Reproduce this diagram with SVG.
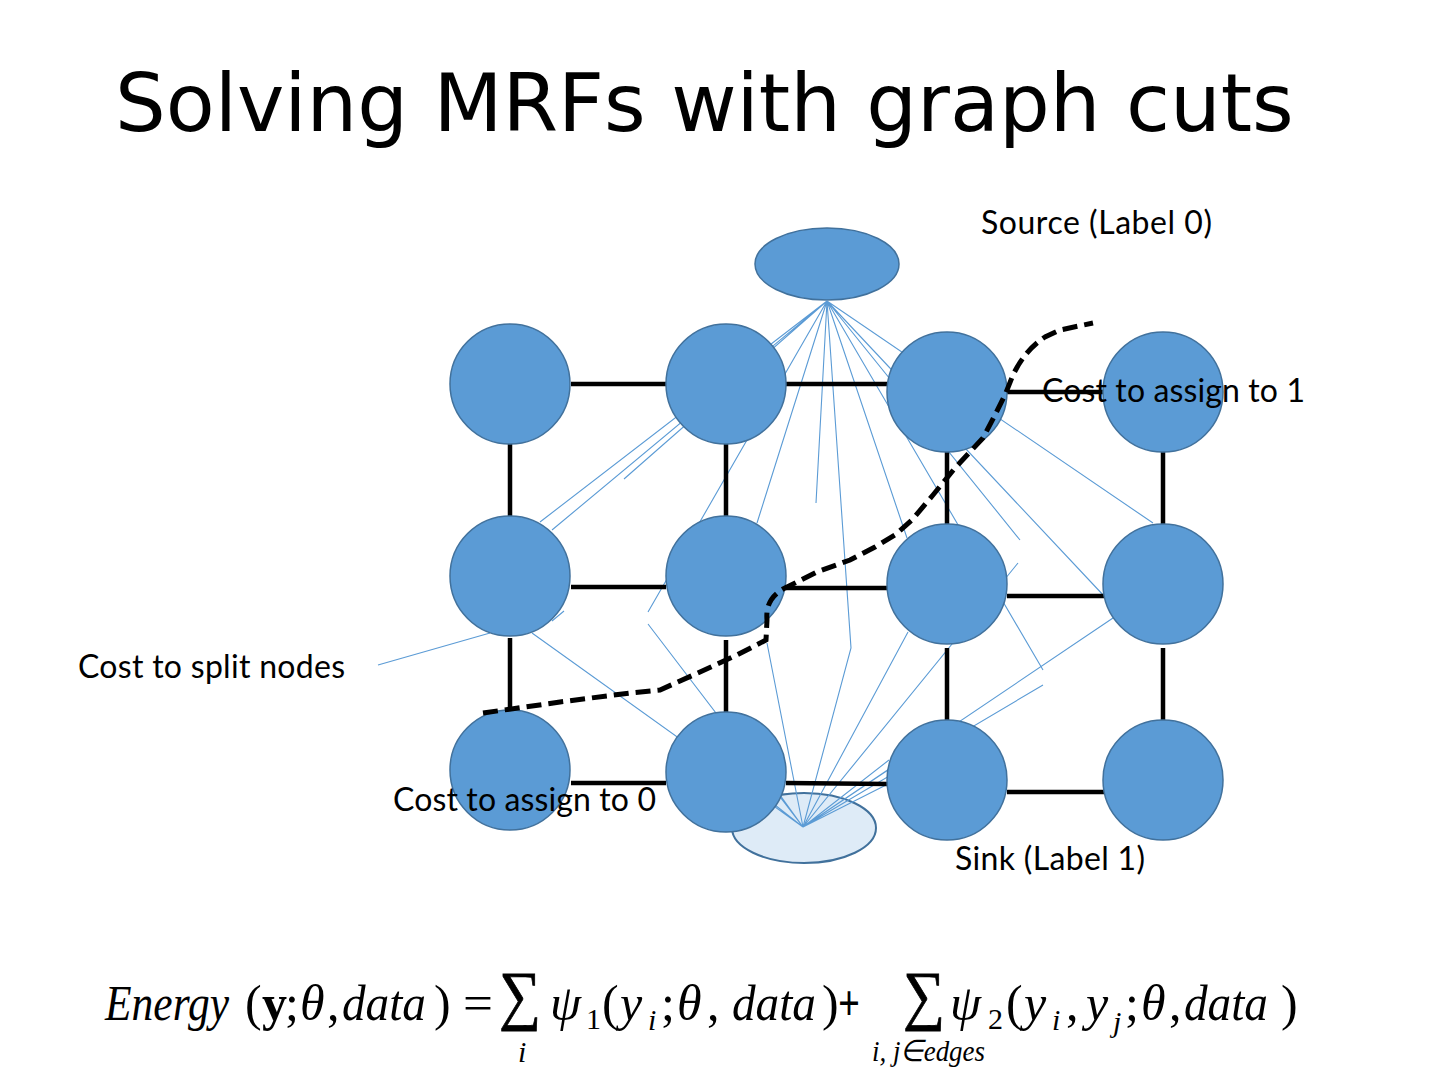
<svg xmlns="http://www.w3.org/2000/svg" width="1440" height="1080" viewBox="0 0 1440 1080">
<style>
.title{font-family:"DejaVu Sans",Verdana,sans-serif;font-size:80px;fill:#000}
.lbl{font-family:Lato,"Open Sans",sans-serif;font-size:32px;fill:#000}
.node{fill:#5B9BD5;stroke:#41719C;stroke-width:1.5}
.sink{fill:#DEEBF7;stroke:#41719C;stroke-width:2}
.thin{stroke:#5B9BD5;stroke-width:1.1;fill:none}
.edge{stroke:#000;stroke-width:4.5;fill:none}
.cut{stroke:#000;stroke-width:5;fill:none;stroke-dasharray:15 7}
.ei{font-family:"Liberation Serif","Times New Roman",serif;font-style:italic;font-size:50px;fill:#000}
.er{font-family:"Liberation Serif","Times New Roman",serif;font-size:50px;fill:#000}
.es{font-family:"Liberation Serif","Times New Roman",serif;font-size:30px;fill:#000}
.esi{font-family:"Liberation Serif","Times New Roman",serif;font-style:italic;font-size:30px;fill:#000}
.sum{font-family:"Liberation Serif","Times New Roman",serif;font-size:66px;fill:#000;stroke:#000;stroke-width:0.8}
</style>
<rect width="1440" height="1080" fill="#fff"/>
<text class="title" x="115" y="131">Solving MRFs with graph cuts</text>

<g id="source"><ellipse class="node" cx="827" cy="264" rx="72" ry="36"/></g>
<g id="sink"><ellipse class="sink" cx="804" cy="828" rx="72" ry="35"/></g>

<g id="connectors">
 <g id="unary">
  <path class="thin" d="M827,301L540,522M827,301L552,530M827,301L624,479M827,301L648,612M827,301L757,523M827,301L816,503M827,301L851,648L803,827M827,301L907,538M827,301L1043,670M827,301L1020,540M827,301L1105,597M827,301L1153,523"/>
  <path class="thin" d="M803,827L767,643M803,827L908,632M803,827L1018,563M803,827L1113,618M803,827L1043,685M803,827L888,770M803,827L889,760M803,827L890,783M803,827L532,633M803,827L648,624M803,827L775,805M803,827L780,795"/>
  <path class="thin" d="M552,621L564,611M378,665L490,633"/>
 </g>
 <g id="pairwise">
  <path class="edge" d="M571,384H666M786,384H890M1007,392H1104M510,444V516M726,444V516M947,452V524M1163,452V524M571,587H666M786,588H888M1007,596H1104M510,638V710M726,640V712M947,648V720M1163,648V720M571,783H666M786,783L888,784M1007,792H1104"/>
 </g>
</g>

<g id="n11"><circle class="node" cx="510" cy="384" r="60"/></g>
<g id="n12"><circle class="node" cx="726" cy="384" r="60"/></g>
<g id="n13"><circle class="node" cx="947" cy="392" r="60"/></g>
<g id="n14"><circle class="node" cx="1163" cy="392" r="60"/></g>
<g id="n21"><circle class="node" cx="510" cy="576" r="60"/></g>
<g id="n22"><circle class="node" cx="726" cy="576" r="60"/></g>
<g id="n23"><circle class="node" cx="947" cy="584" r="60"/></g>
<g id="n24"><circle class="node" cx="1163" cy="584" r="60"/></g>
<g id="n31"><circle class="node" cx="510" cy="770" r="60"/></g>
<g id="n32"><circle class="node" cx="726" cy="772" r="60"/></g>
<g id="n33"><circle class="node" cx="947" cy="780" r="60"/></g>
<g id="n34"><circle class="node" cx="1163" cy="780" r="60"/></g>

<g id="cut">
 <path class="cut" d="M483,713L560,702L630,693L660,690L700,672L737,655L766,640L767,620Q765,598 785,588L817,572L850,560L875,547L895,535L912,520L933,495L955,468L983,438L995,415L1005,395L1013,375Q1025,350 1045,337L1060,330L1093,323"/>
</g>

<g id="labels">
 <text class="lbl" x="981" y="234" textLength="231">Source (Label 0)</text>
 <text class="lbl" x="1042" y="402" textLength="263">Cost to assign to 1</text>
 <text class="lbl" x="78" y="678" textLength="267">Cost to split nodes</text>
 <text class="lbl" x="393" y="811" textLength="263">Cost to assign to 0</text>
 <text class="lbl" x="955" y="870" textLength="190">Sink (Label 1)</text>
</g>

<g id="equation">
 <text class="ei" x="105" y="1020" textLength="124" lengthAdjust="spacingAndGlyphs">Energy</text>
 <text class="er" x="245" y="1020" font-size="56">(</text>
 <text class="er" x="262" y="1020" font-weight="bold">y</text>
 <text class="er" x="285" y="1020">;</text>
 <text class="ei" x="300" y="1020">θ</text>
 <text class="er" x="327" y="1020">,</text>
 <text class="ei" x="342" y="1020" textLength="84" lengthAdjust="spacingAndGlyphs">data</text>
 <text class="er" x="434" y="1020" font-size="56">)</text>
 <text class="er" x="463" y="1020" textLength="30" lengthAdjust="spacingAndGlyphs">=</text>
 <text class="sum" x="499" y="1017" textLength="42" lengthAdjust="spacingAndGlyphs">∑</text>
 <text class="esi" x="518" y="1062">i</text>
 <text class="ei" x="550" y="1020">ψ</text>
 <text class="es" x="586" y="1029">1</text>
 <text class="er" x="602" y="1020" font-size="56">(</text>
 <text class="ei" x="620" y="1020">y</text>
 <text class="esi" x="648" y="1030">i</text>
 <text class="er" x="661" y="1020">;</text>
 <text class="ei" x="677" y="1020">θ</text>
 <text class="er" x="707" y="1020">,</text>
 <text class="ei" x="732" y="1020" textLength="84" lengthAdjust="spacingAndGlyphs">data</text>
 <text class="er" x="822" y="1020" font-size="56">)</text>
 <text class="er" x="838" y="1020" font-weight="bold" textLength="22" lengthAdjust="spacingAndGlyphs">+</text>
 <text class="sum" x="903" y="1017" textLength="42" lengthAdjust="spacingAndGlyphs">∑</text>
 <text class="esi" x="872" y="1061" font-size="28" textLength="113" lengthAdjust="spacingAndGlyphs">i, j∈edges</text>
 <text class="ei" x="950" y="1020">ψ</text>
 <text class="es" x="988" y="1029">2</text>
 <text class="er" x="1006" y="1020" font-size="56">(</text>
 <text class="ei" x="1024" y="1020">y</text>
 <text class="esi" x="1052" y="1030">i</text>
 <text class="er" x="1066" y="1020">,</text>
 <text class="ei" x="1086" y="1020">y</text>
 <text class="esi" x="1113" y="1032">j</text>
 <text class="er" x="1125" y="1020">;</text>
 <text class="ei" x="1141" y="1020">θ</text>
 <text class="er" x="1169" y="1020">,</text>
 <text class="ei" x="1184" y="1020" textLength="84" lengthAdjust="spacingAndGlyphs">data</text>
 <text class="er" x="1281" y="1020" font-size="56">)</text>
</g>
</svg>
